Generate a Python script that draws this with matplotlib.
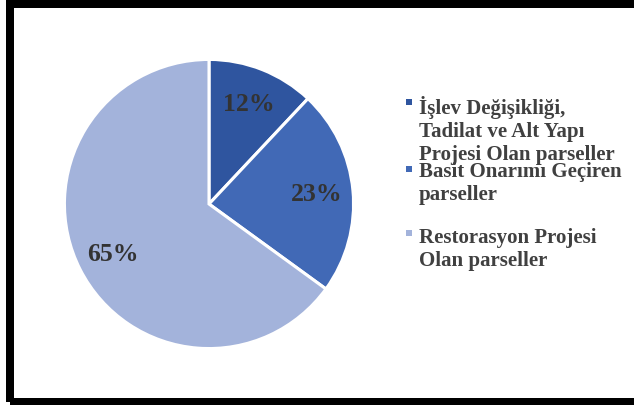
import matplotlib
matplotlib.use('Agg')
import matplotlib.pyplot as plt
from matplotlib.patches import Rectangle

# data
labels = ["İşlev Değişikliği,\nTadilat ve Alt Yapı\nProjesi Olan parseller",
          "Basit Onarımı Geçiren\nparseller",
          "Restorasyon Projesi\nOlan parseller"]
shares = [12, 23, 65]
colors = ["#2F559F", "#4169B6", "#A3B3DB"]

W, H = 634, 406
fig = plt.figure(figsize=(W / 100, H / 100), dpi=100)
fig.patch.set_facecolor("white")
plt.rcParams['font.family'] = ['Liberation Serif', 'DejaVu Serif']

# pie, center (209, 205) px, radius 146 px
cx, cy, r = 209, 205, 146
ax = fig.add_axes([(cx - r) / W, (H - cy - r) / H, 2 * r / W, 2 * r / H])
wedges, texts, autotexts = ax.pie(
    shares, colors=colors, startangle=90, counterclock=False,
    autopct='%d%%', pctdistance=0.75,
    wedgeprops=dict(edgecolor='white', linewidth=2.2),
    textprops=dict(fontsize=18.5, fontweight='bold', color='#333333'))
ax.set_xlim(-1.01, 1.01)
ax.set_ylim(-1.01, 1.01)
ax.set_aspect('equal')
ax.axis('off')

# legend drawn by hand: bullet centre y and text top y (px from top)
bullet_y = [103, 170, 234]
text_top = [96, 162, 228]
for lab, col, by, ty in zip(labels, colors, bullet_y, text_top):
    fig.patches.append(Rectangle(((409 - 3) / W, (H - by - 3) / H), 6 / W, 6 / H,
                                 transform=fig.transFigure, facecolor=col,
                                 edgecolor='none'))
    fig.text(419 / W, (H - ty) / H, lab, fontsize=15, fontweight='bold',
             color='#404040', va='top', ha='left', linespacing=1.2)

# frame (left, top, bottom; no right edge)
lw = 8 * 72 / 100
fig.patches.append(Rectangle((10 / W, 3 / H), 700 / W, (H - 8) / H,
                             transform=fig.transFigure, facecolor='none',
                             edgecolor='black', linewidth=lw))

fig.savefig('out.png', dpi=100)
